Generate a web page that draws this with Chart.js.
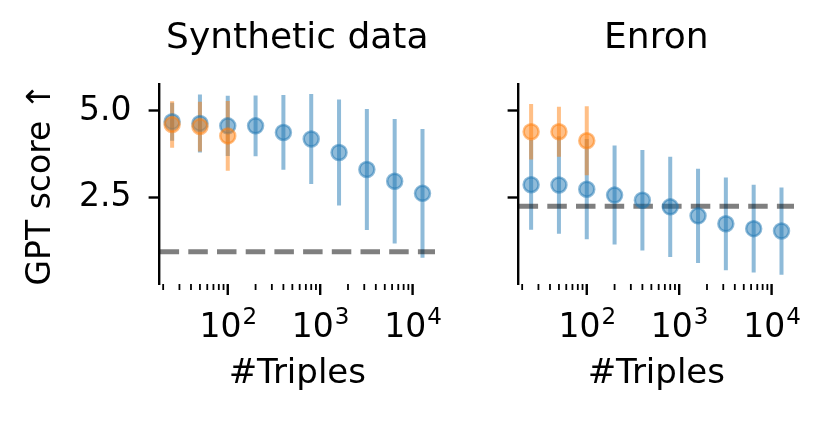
<!DOCTYPE html>
<html>
<head>
<meta charset="utf-8">
<script src="https://cdn.jsdelivr.net/npm/chart.js@4.4.1/dist/chart.umd.min.js"></script>
<style>
	body { margin: 0; background: #fff; }
	#wrap { position: relative; width: 831px; height: 425px; }
	canvas { position: absolute; top: 0; }
</style>
</head>
<body>
<div id="wrap">
	<canvas id="synthetic-chart" width="470" height="425" style="left:0px"></canvas>
	<canvas id="enron-chart" width="361" height="425" style="left:470px"></canvas>
</div>
<script>
// x positions (number of triples)
const triples = [25, 50, 100, 200, 400, 800, 1600, 3200, 6400, 12800];
const triplesBaseline = [25, 50, 100];

// Synthetic data panel: mean and std of GPT score
const synthMean = [4.69, 4.64, 4.57, 4.57, 4.38, 4.19, 3.80, 3.31, 2.97, 2.62];
const synthStd = [0.55, 0.84, 0.87, 0.88, 1.08, 1.30, 1.53, 1.75, 1.80, 1.86];
const synthBaseMean = [4.61, 4.55, 4.28];
const synthBaseStd = [0.67, 0.72, 1.01];
const synthRef = 0.93;

// Enron panel
const enronMean = [2.87, 2.86, 2.74, 2.57, 2.42, 2.23, 1.97, 1.74, 1.60, 1.53];
const enronStd = [1.30, 1.41, 1.45, 1.43, 1.45, 1.45, 1.36, 1.34, 1.27, 1.26];
const enronBaseMean = [4.40, 4.40, 4.14];
const enronBaseStd = [0.80, 0.72, 1.00];
const enronRef = 2.25;

// axes
const xMin = 18.3;
const xMax = 17480;
const xMinorTicks = [20, 30, 40, 50, 60, 70, 80, 90, 100, 200, 300, 400, 500, 600, 700, 800, 900,
	1000, 2000, 3000, 4000, 5000, 6000, 7000, 8000, 9000, 10000];
const xDecades = [100, 1000, 10000];
const xDecadeExps = ['2', '3', '4'];
const yTicks = [2.5, 5.0];
const yMin = 0.0;
const yMax = 5.78;

const FONT = 'DejaVu Sans';
const tickSize = 33;
const blue = 'rgba(31,119,180,0.5)';
const orange = 'rgba(255,127,14,0.5)';

Chart.defaults.font.family = FONT;
Chart.defaults.color = '#000';

const toPoints = (xs, ys) => xs.map((x, i) => ({ x, y: ys[i] }));

// vertical error bars, drawn under every marker
const errorBars = {
	id: 'errorBars',
	beforeDatasetsDraw(chart) {
		const { ctx } = chart;
		const xs = chart.scales.x;
		const ys = chart.scales.y;
		ctx.save();
		ctx.beginPath();
		ctx.rect(chart.chartArea.left, 0, chart.chartArea.width, chart.height);
		ctx.clip();
		chart.data.datasets.forEach((ds) => {
			if (!ds.errors) return;
			ctx.strokeStyle = ds.borderColor;
			ctx.lineWidth = 4;
			ds.data.forEach((p, i) => {
				const px = xs.getPixelForValue(p.x);
				ctx.beginPath();
				ctx.moveTo(px, ys.getPixelForValue(p.y - ds.errors[i]));
				ctx.lineTo(px, ys.getPixelForValue(p.y + ds.errors[i]));
				ctx.stroke();
			});
		});
		ctx.restore();
	},
};

// log-axis ticks (major + minor) and 10^n labels
const logAxis = {
	id: 'logAxis',
	afterDraw(chart) {
		const { ctx, chartArea } = chart;
		const xs = chart.scales.x;
		ctx.save();
		ctx.strokeStyle = '#000';
		xs.ticks.forEach((t) => {
			const px = xs.getPixelForValue(t.value);
			const major = xDecades.includes(t.value);
			ctx.lineWidth = major ? 2.4 : 1.8;
			ctx.beginPath();
			ctx.moveTo(px, chartArea.bottom);
			ctx.lineTo(px, chartArea.bottom + (major ? 11 : 6));
			ctx.stroke();
		});
		ctx.fillStyle = '#000';
		ctx.textBaseline = 'alphabetic';
		ctx.textAlign = 'left';
		xDecades.forEach((v, i) => {
			const px = xs.getPixelForValue(v);
			ctx.font = `${tickSize}px "${FONT}"`;
			const wBase = ctx.measureText('10').width;
			ctx.font = `${Math.round(tickSize * 0.7)}px "${FONT}"`;
			const wExp = ctx.measureText(xDecadeExps[i]).width;
			const left = px - (wBase + wExp) / 2;
			ctx.font = `${tickSize}px "${FONT}"`;
			ctx.fillText('10', left, 337);
			ctx.font = `${Math.round(tickSize * 0.7)}px "${FONT}"`;
			ctx.fillText(xDecadeExps[i], left + wBase + 1, 324);
		});
		ctx.restore();
	},
};

function panel(id, title, mean, std, baseMean, baseStd, ref, yWidth, padRight, showY) {
	return new Chart(id, {
		type: 'scatter',
		data: {
			datasets: [
				{
					data: toPoints(triples, mean),
					errors: std,
					backgroundColor: blue,
					borderColor: blue,
					pointRadius: 7.5,
					borderWidth: 2.5,
					order: 1,
				},
				{
					data: toPoints(triplesBaseline, baseMean),
					errors: baseStd,
					backgroundColor: orange,
					borderColor: orange,
					pointRadius: 7.5,
					borderWidth: 2.5,
					order: 0,
				},
				{
					data: [{ x: xMin, y: ref }, { x: xMax, y: ref }],
					showLine: true,
					borderColor: 'rgba(0,0,0,0.5)',
					borderWidth: 5,
					borderDash: [19.5, 9.2],
					pointRadius: 0,
					order: 2,
				},
			],
		},
		options: {
			responsive: false,
			animation: false,
			devicePixelRatio: 1,
			layout: { padding: { left: 0, right: padRight, top: 0, bottom: 0 } },
			scales: {
				x: {
					type: 'logarithmic',
					min: xMin,
					max: xMax,
					grid: { display: false },
					border: { display: false },
					ticks: { display: false },
					afterBuildTicks: (s) => {
						s.ticks = xMinorTicks.map((v) => ({ value: v }));
					},
					afterFit: (s) => {
						s.height = 141;
					},
					title: {
						display: true,
						text: '#Triples',
						font: { size: 34 },
						padding: { top: 0, bottom: 30 },
					},
				},
				y: {
					min: yMin,
					max: yMax,
					afterBuildTicks: (s) => {
						s.ticks = yTicks.map((v) => ({ value: v }));
					},
					afterFit: (s) => {
						s.width = yWidth;
					},
					ticks: {
						font: { size: tickSize },
						padding: 17,
						callback: (v) => (showY ? v.toFixed(1) : ''),
					},
					grid: {
						drawOnChartArea: false,
						tickLength: 11,
						tickWidth: 2.4,
						tickColor: '#000',
					},
					border: { display: true, color: '#000', width: 2.4 },
					title: {
						display: showY,
						text: 'GPT score ↑',
						font: { size: 33 },
						padding: { top: 22, bottom: 0 },
					},
				},
			},
			plugins: {
				legend: { display: false },
				tooltip: { enabled: false },
				title: {
					display: true,
					text: title,
					fullSize: false,
					font: { size: 36, weight: 'normal' },
					color: '#000',
					padding: { top: 17, bottom: 23.8 },
				},
			},
		},
		plugins: [errorBars, logAxis],
	});
}

panel('synthetic-chart', 'Synthetic data', synthMean, synthStd, synthBaseMean, synthBaseStd, synthRef, 159.6, 35, true);
panel('enron-chart', 'Enron', enronMean, enronStd, enronBaseMean, enronBaseStd, enronRef, 48.6, 37, false);
</script>
</body>
</html>
